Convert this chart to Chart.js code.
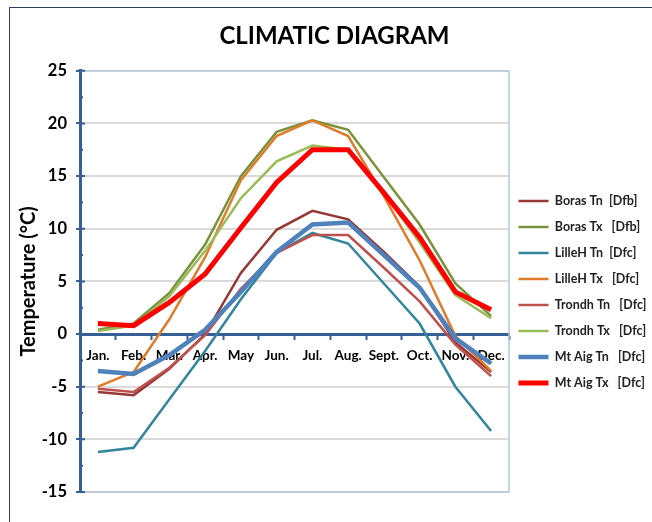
<!DOCTYPE html>
<html>
<head>
<meta charset="utf-8">
<script src="https://cdn.jsdelivr.net/npm/chart.js@4.4.1/dist/chart.umd.min.js"></script>
<style>
  html, body { margin: 0; padding: 0; background: #ffffff; }
  #wrap { position: relative; width: 652px; height: 522px; overflow: hidden; }
  #frame { position: absolute; left: 9px; top: 7px; width: 1000px; height: 1000px;
           border-left: 1px solid #2b3f63; border-top: 1px solid #2b3f63; }
  canvas { position: absolute; left: 0; top: 0; }
</style>
</head>
<body>
<div id="wrap">
  <div id="frame"></div>
  <canvas id="c" width="652" height="522"></canvas>
</div>
<script>
// ---- data ----
const months = ['Jan.', 'Feb.', 'Mar.', 'Apr.', 'May', 'Jun.', 'Jul.', 'Aug.', 'Sept.', 'Oct.', 'Nov.', 'Dec.'];

const borasTn  = [-5.5, -5.8, -3.3,  0.0,  5.8,  9.9, 11.7, 10.9,  7.8,  4.5, -0.8, -3.6];
const borasTx  = [ 0.4,  1.0,  3.9,  8.5, 15.0, 19.2, 20.3, 19.4, 14.9, 10.4,  4.8,  1.7];
const lilleTn  = [-11.2, -10.8, -6.2, -1.6, 3.3,  7.7,  9.6,  8.6,  4.8,  1.0, -5.0, -9.2];
const lilleTx  = [-5.0, -3.6,  1.4,  7.3, 14.6, 18.8, 20.3, 18.8, 13.1,  7.0, -0.2, -3.5];
const trondTn  = [-5.2, -5.5, -3.2, -0.1,  4.3,  7.7,  9.4,  9.4,  6.3,  3.1, -1.0, -4.0];
const trondTx  = [ 0.3,  0.8,  3.6,  7.9, 12.9, 16.4, 17.9, 17.5, 13.4,  8.7,  3.7,  1.5];
const mtAigTn  = [-3.5, -3.8, -2.0,  0.4,  4.0,  7.8, 10.4, 10.6,  7.5,  4.4, -0.4, -2.8];
const mtAigTx  = [ 1.0,  0.8,  3.0,  5.7, 10.1, 14.4, 17.5, 17.5, 13.4,  9.2,  4.0,  2.3];

const seriesNames = ['Boras Tn  [Dfb]', 'Boras Tx   [Dfb]', 'LilleH Tn  [Dfc]', 'LilleH Tx   [Dfc]',
                     'Trondh Tn   [Dfc]', 'Trondh Tx   [Dfc]', 'Mt Aig Tn   [Dfc]', 'Mt Aig Tx   [Dfc]'];
const seriesValues = [borasTn, borasTx, lilleTn, lilleTx, trondTn, trondTx, mtAigTn, mtAigTx];
const seriesColors = ['#953735', '#77933c', '#31859c', '#e07b2a', '#c0504d', '#9bbb59', '#4f81bd', '#ff0000'];
const seriesWidths = [2.5, 2.5, 2.5, 2.5, 2.5, 2.5, 4.5, 5];

const yMin = -15, yMax = 25, yStep = 5;
const AXIS = '#365f96';
const FONT = 'Lato, "Open Sans", sans-serif';

const datasets = seriesNames.map((name, i) => ({
  label: name,
  data: seriesValues[i],
  borderColor: seriesColors[i],
  backgroundColor: seriesColors[i],
  borderWidth: seriesWidths[i],
  pointRadius: 0,
  pointHoverRadius: 0,
  tension: 0,
  fill: false,
  order: seriesNames.length - 1 - i
}));

const decor = {
  id: 'decor',
  beforeLayout(chart) {
    const lg = chart.legend;
    if (lg && !lg._patched) {
      const orig = lg.fit.bind(lg);
      lg.fit = function () { orig(); this.width = 143; };
      lg._patched = true;
    }
  },
  afterLayout(chart) {
    const lg = chart.legend;
    if (lg) { lg.left -= 4; lg.right -= 4; lg.top += 46; lg.bottom += 46; }
  },
  beforeDatasetsDraw(chart) {
    const {ctx, chartArea: a, scales: {y}} = chart;
    ctx.save();
    ctx.strokeStyle = '#b8c8de';
    ctx.lineWidth = 1.5;
    ctx.beginPath();
    ctx.moveTo(a.left, a.top); ctx.lineTo(a.right, a.top);
    ctx.lineTo(a.right, a.bottom); ctx.lineTo(a.left, a.bottom);
    ctx.stroke();
    ctx.strokeStyle = AXIS;
    ctx.lineWidth = 2;
    ctx.beginPath();
    for (let v = yMin; v <= yMax; v += yStep / 2) {
      const py = y.getPixelForValue(v);
      const major = Math.abs(v % yStep) < 1e-9;
      ctx.moveTo(a.left, py);
      ctx.lineTo(a.left + (major ? 5 : 3), py);
    }
    ctx.stroke();
    ctx.restore();
  }
};

new Chart(document.getElementById('c'), {
  type: 'line',
  data: { labels: months, datasets },
  options: {
    responsive: false,
    animation: false,
    devicePixelRatio: 1,
    layout: { padding: { left: 17, right: 0, top: 0, bottom: 30 } },
    plugins: {
      title: {
        display: true,
        text: 'CLIMATIC DIAGRAM',
        color: '#000000',
        font: { family: FONT, size: 24, weight: 'bold' },
        padding: { top: 22, bottom: 20 }
      },
      legend: {
        display: true,
        position: 'right',
        labels: {
          usePointStyle: true,
          pointStyle: 'line',
          pointStyleWidth: 30,
          padding: 13.5,
          color: '#222222',
          font: { family: FONT, size: 12.5, weight: 'bold' },
          sort: (a, b) => a.datasetIndex - b.datasetIndex
        }
      },
      tooltip: { enabled: false }
    },
    scales: {
      x: {
        type: 'category',
        position: { y: 0 },
        offset: true,
        grid: { display: true, drawOnChartArea: false, drawTicks: true, offset: true,
                tickLength: 4, tickColor: AXIS, tickWidth: 2 },
        border: { display: true, color: AXIS, width: 3 },
        ticks: { color: '#000000', font: { family: FONT, size: 13.5, weight: 'bold' },
                 padding: 9, autoSkip: false, maxRotation: 0, minRotation: 0 }
      },
      y: {
        min: yMin, max: yMax,
        afterFit(scale) { scale.width = 63; },
        ticks: { stepSize: yStep, color: '#000000', padding: 9,
                 font: { family: FONT, size: 16.5, weight: 'bold' } },
        grid: { color: '#dadada', lineWidth: 2, drawTicks: true, tickLength: 4,
                tickColor: AXIS, tickWidth: 2 },
        border: { display: true, color: AXIS, width: 3 },
        title: { display: true, text: 'Temperature (°C)', color: '#000000',
                 font: { family: FONT, size: 20, weight: 'bold' }, padding: { top: 0, bottom: 0 } }
      }
    }
  },
  plugins: [decor]
});
</script>
</body>
</html>
